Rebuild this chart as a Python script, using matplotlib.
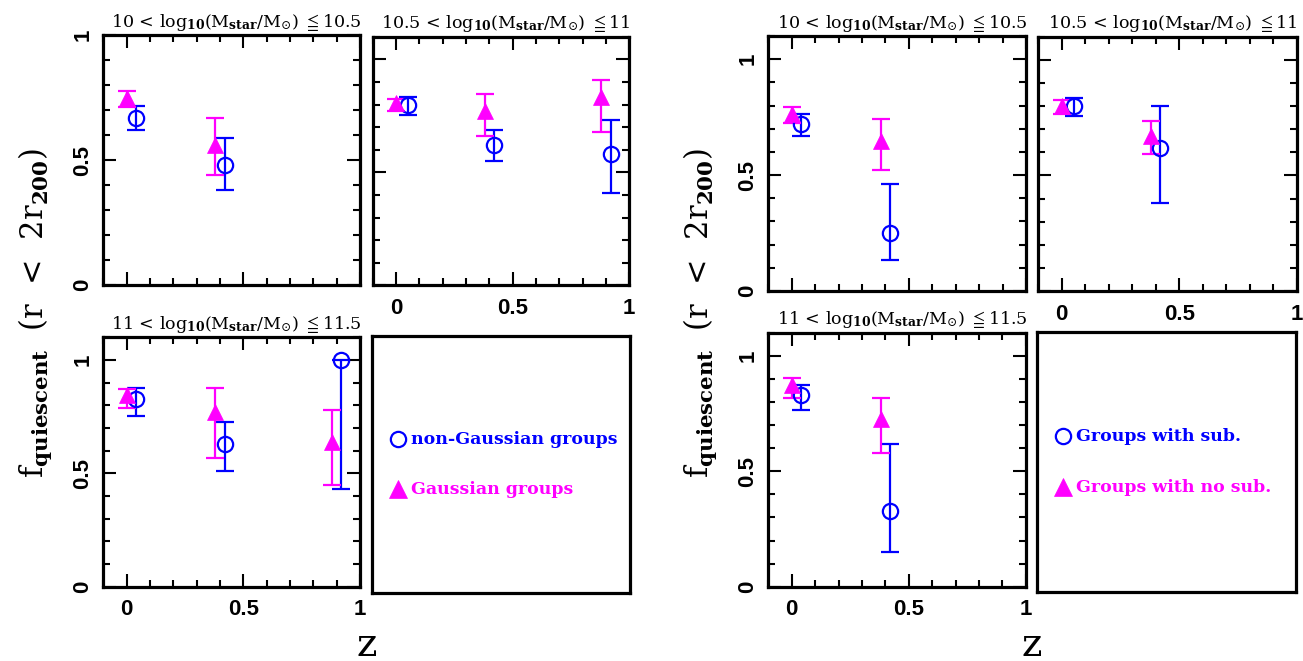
import numpy as np
import matplotlib
matplotlib.use("Agg")
import matplotlib.pyplot as plt
from matplotlib.ticker import MultipleLocator, FixedLocator

plt.rcParams['mathtext.fontset'] = 'dejavuserif'
plt.rcParams['font.family'] = ['DejaVu Serif', 'DejaVu Sans']

W, H = 1303, 661

BLUE = '#0000ff'
MAGENTA = '#ff00ff'

# ---------------- data ----------------
mass_bins = [
    r'10 < log$_{\mathbf{10}}$(M$_{\mathbf{star}}$/M$_{\odot}$) $\leqq$10.5',
    r'10.5 < log$_{\mathbf{10}}$(M$_{\mathbf{star}}$/M$_{\odot}$) $\leqq$11',
    r'11 < log$_{\mathbf{10}}$(M$_{\mathbf{star}}$/M$_{\odot}$) $\leqq$11.5',
]

# Left figure: non-Gaussian (blue circles) vs Gaussian (magenta triangles)
ng_z = [[0.04, 0.42], [0.05, 0.42, 0.92], [0.04, 0.42, 0.92]]
ng_f = [[0.67, 0.48], [0.80, 0.62, 0.58], [0.83, 0.63, 1.00]]
ng_lo = [[0.62, 0.38], [0.755, 0.55, 0.41], [0.755, 0.51, 0.43]]
ng_hi = [[0.715, 0.59], [0.835, 0.685, 0.73], [0.878, 0.725, 1.00]]

g_z = [[0.0, 0.38], [0.0, 0.38, 0.88], [0.0, 0.38, 0.88]]
g_f = [[0.75, 0.56], [0.805, 0.77, 0.835], [0.845, 0.77, 0.64]]
g_lo = [[0.713, 0.44], [0.773, 0.662, 0.68], [0.79, 0.568, 0.45]]
g_hi = [[0.777, 0.667], [0.825, 0.845, 0.91], [0.873, 0.875, 0.78]]

# Right figure: groups with substructure (blue) vs without (magenta)
sub_z = [[0.04, 0.42], [0.05, 0.42], [0.04, 0.42]]
sub_f = [[0.72, 0.25], [0.80, 0.62], [0.83, 0.33]]
sub_lo = [[0.667, 0.132], [0.758, 0.382], [0.767, 0.149]]
sub_hi = [[0.765, 0.462], [0.835, 0.80], [0.872, 0.617]]

nosub_z = [[0.0, 0.38], [0.0, 0.38], [0.0, 0.38]]
nosub_f = [[0.765, 0.647], [0.80, 0.672], [0.872, 0.728]]
nosub_lo = [[0.726, 0.52], [0.765, 0.593], [0.817, 0.578]]
nosub_hi = [[0.793, 0.742], [0.828, 0.736], [0.903, 0.817]]

ylims_left = [1.0, 1.1, 1.1]
ylims_right = [1.1, 1.1, 1.1]

legend_left = ['non-Gaussian groups', 'Gaussian groups']
legend_right = ['Groups with sub.', 'Groups with no sub.']

xtick_vals = [0, 0.5, 1]
xtick_labels = ['0', '0.5', '1']
ytick_vals = [0, 0.5, 1]
ytick_labels = ['0', '0.5', '1']

ylabel = r'f$_{\mathbf{quiescent}}$  (r  <  2r$_{\mathbf{200}}$)'

# ---------------- figure ----------------
fig = plt.figure(figsize=(W / 100, H / 100), dpi=100)


def px_box(x0, y0, x1, y1):
    return [x0 / W, 1 - y1 / H, (x1 - x0) / W, (y1 - y0) / H]


TICKFONT = dict(family='Liberation Sans', weight='bold', size=16)


def style_axes(ax, ymax, show_x, show_y):
    ax.set_xlim(-0.1, 1.0)
    ax.set_ylim(0, ymax)
    for s in ax.spines.values():
        s.set_linewidth(2.3)
    ax.xaxis.set_major_locator(FixedLocator(xtick_vals))
    ax.yaxis.set_major_locator(FixedLocator(ytick_vals))
    ax.xaxis.set_minor_locator(MultipleLocator(0.1))
    ax.yaxis.set_minor_locator(MultipleLocator(0.1))
    ax.tick_params(which='both', direction='in', top=True, right=True,
                   width=1.5, color='black')
    ax.tick_params(which='major', length=9.5)
    ax.tick_params(which='minor', length=5)
    ax.tick_params(axis='x', which='major', pad=9)
    ax.tick_params(axis='y', which='major', pad=7)
    if show_x:
        ax.set_xticklabels(xtick_labels, fontdict=TICKFONT)
    else:
        ax.set_xticklabels([])
    if show_y:
        ax.set_yticklabels(ytick_labels, fontdict=TICKFONT, rotation=90,
                           va='center')
    else:
        ax.set_yticklabels([])


def draw_series(ax, z, f, lo, hi, color, marker, filled):
    z = np.asarray(z)
    f = np.asarray(f)
    yerr = np.vstack([f - np.asarray(lo), np.asarray(hi) - f])
    eb = ax.errorbar(z, f, yerr=yerr, fmt=marker, color=color,
                     mfc=color if filled else 'none', mec=color,
                     ms=12 if filled else 11, mew=0.5 if filled else 1.6,
                     elinewidth=1.6, capsize=6.5, capthick=1.6, zorder=3)
    for cap in eb[1]:
        cap.set_markeredgewidth(1.6)


def draw_legend_box(ax, labels):
    ax.set_xlim(0, 1)
    ax.set_ylim(0, 1)
    ax.set_xticks([])
    ax.set_yticks([])
    for s in ax.spines.values():
        s.set_linewidth(2.3)
    ax.plot([0.10], [0.598], marker='o', ms=11, mfc='none', mec=BLUE, mew=1.6,
            transform=ax.transAxes, clip_on=False)
    ax.plot([0.10], [0.404], marker='^', ms=13, mfc=MAGENTA, mec=MAGENTA,
            mew=0.5, transform=ax.transAxes, clip_on=False)
    ax.text(0.152, 0.598, labels[0], color=BLUE, transform=ax.transAxes,
            ha='left', va='center', family='DejaVu Serif', weight='bold',
            size=12.5)
    ax.text(0.152, 0.404, labels[1], color=MAGENTA, transform=ax.transAxes,
            ha='left', va='center', family='DejaVu Serif', weight='bold',
            size=12.5)


def make_block(boxes, ylims, blue_data, mag_data, legend_labels,
               ylabel_x, xlabel_x):
    show = [(False, True), (True, False), (True, True)]
    for i, box in enumerate(boxes[:3]):
        ax = fig.add_axes(px_box(*box))
        style_axes(ax, ylims[i], show[i][0], show[i][1])
        bz, bf, blo, bhi = (d[i] for d in blue_data)
        mz, mf, mlo, mhi = (d[i] for d in mag_data)
        draw_series(ax, bz, bf, blo, bhi, BLUE, 'o', False)
        draw_series(ax, mz, mf, mlo, mhi, MAGENTA, '^', True)
        ax.set_title(mass_bins[i], fontsize=12.6, pad=6, x=0.52,
                     family='DejaVu Serif')
    lax = fig.add_axes(px_box(*boxes[3]))
    draw_legend_box(lax, legend_labels)
    fig.text(ylabel_x / W, 1 - 313 / H, ylabel, rotation=90, ha='center',
             va='center', fontsize=22, family='DejaVu Serif')
    fig.text(xlabel_x / W, 1 - 645 / H, 'z', ha='center', va='center',
             fontsize=28, family='DejaVu Serif')


left_boxes = [(103.3, 35, 360, 285), (372.7, 36.7, 629.3, 285.3),
              (103.3, 337.3, 360, 586.7), (371.7, 336, 630, 593.3)]
right_boxes = [(768.3, 36, 1026, 291), (1038.3, 36.7, 1296.7, 291),
               (768.3, 332.7, 1025.7, 586.7), (1036.7, 331.7, 1296, 592.3)]

make_block(left_boxes, ylims_left, (ng_z, ng_f, ng_lo, ng_hi),
           (g_z, g_f, g_lo, g_hi), legend_left, 35, 367)
make_block(right_boxes, ylims_right, (sub_z, sub_f, sub_lo, sub_hi),
           (nosub_z, nosub_f, nosub_lo, nosub_hi), legend_right, 700, 1032)

fig.savefig('out.png', dpi=100)
